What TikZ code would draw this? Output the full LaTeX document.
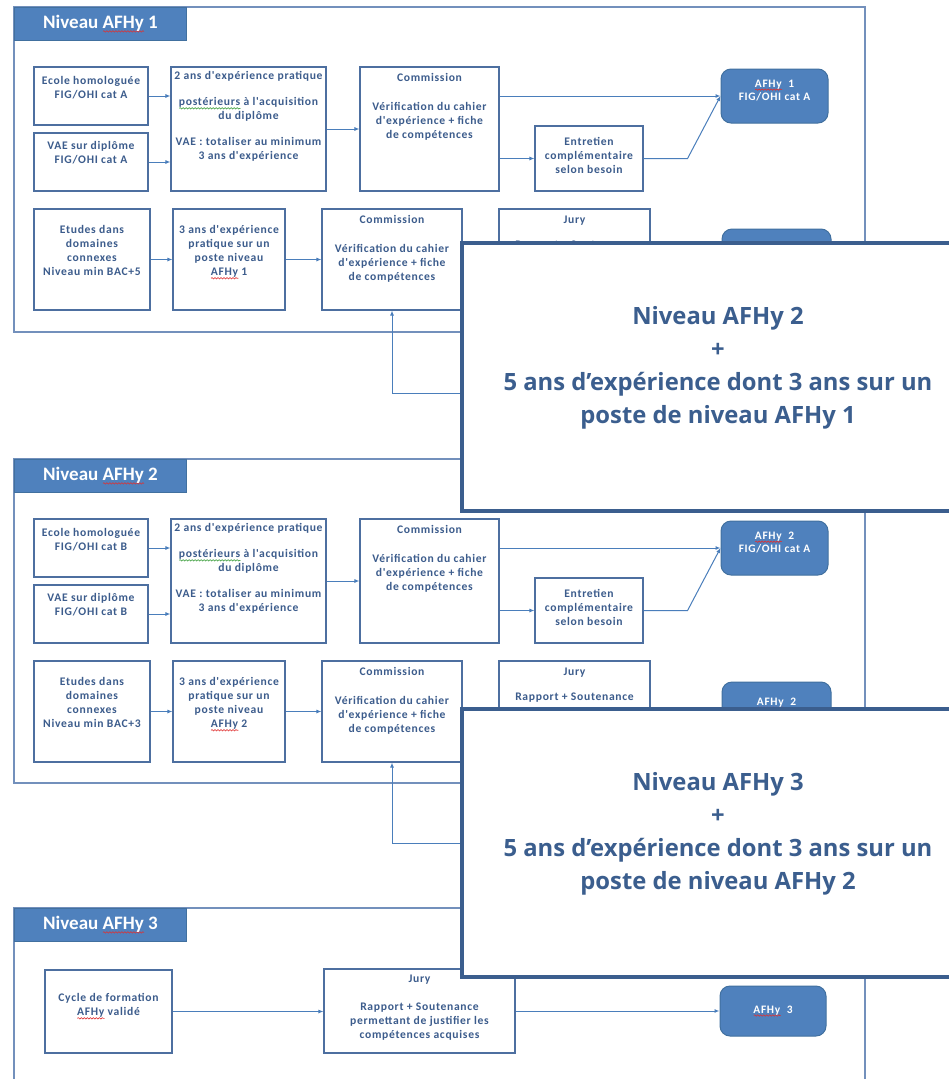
\documentclass[tikz,border=0pt]{standalone}
\usepackage{fontspec}
\setmainfont{Carlito}
\newfontfamily\boxfont[LetterSpace=6]{Carlito}
\newfontfamily\notefont{Open Sans}
\usetikzlibrary{arrows.meta,decorations.pathmorphing}

\definecolor{headblue}{HTML}{4F81BD}
\definecolor{headline}{HTML}{41709F}
\definecolor{framecol}{HTML}{7390BC}
\definecolor{boxline}{HTML}{4D6FA0}
\definecolor{boxtext}{HTML}{3C5C8C}
\definecolor{flowcol}{HTML}{4A7EBB}
\definecolor{notecol}{HTML}{3B5E8E}
\definecolor{spellred}{HTML}{E03030}
\definecolor{spellgreen}{HTML}{3FA03F}

\newsavebox\spellbox
\newlength\spellwd
\newcommand\spellmark[2]{\sbox\spellbox{#2}\setlength\spellwd{\wd\spellbox}%
\rlap{\tikz[baseline=2.5pt]\draw[#1, line width=0.6pt, decorate, decoration={snake, amplitude=0.7pt, segment length=3pt}] (0pt,0pt) -- (\spellwd,0pt);}\usebox\spellbox}
\newcommand\redwave[1]{\spellmark{spellred}{#1}}
\newcommand\greenwave[1]{\spellmark{spellgreen}{#1}}

\pgfdeclarelayer{background layer}
\pgfdeclarelayer{foreground layer}
\pgfsetlayers{background layer,main,foreground layer}

\begin{document}
\begin{tikzpicture}[x=1pt,y=-1pt,
frame/.style={draw=framecol, line width=1.2pt},
head/.style={anchor=north west, fill=headblue, draw=headline, line width=1pt, text=white, font=\fontsize{19}{21}\selectfont\bfseries, minimum width=172pt, minimum height=33pt, inner sep=0pt},
stage/.style={draw=boxline, line width=1.1pt, fill=white, inner sep=0pt},
lbl/.style={font=\boxfont\bfseries\fontsize{11.6}{14}\selectfont, text=boxtext, align=center, inner sep=0pt},
goal/.style={fill=headblue, draw=headline, line width=1pt, rounded corners=10pt, inner sep=0pt},
goaltext/.style={font=\boxfont\bfseries\fontsize{11.4}{13}\selectfont, text=white, align=center, inner sep=0pt},
flow/.style={draw=flowcol, line width=1pt, -{Latex[length=5pt,width=4pt]}},
note/.style={draw=notecol, line width=4.5pt, fill=white, minimum width=512pt, minimum height=268pt, inner sep=0pt},
notetext/.style={font=\notefont\bfseries\fontsize{23.8}{33}\selectfont, text=notecol, align=center, inner sep=0pt}
]
\useasboundingbox (0,0) rectangle (949,1079);
\fill[white] (0,0) rectangle (949,1079);

% Niveau AFHy 1
\draw[frame] (14,7) rectangle (865,332);
\node[head] (headA) at (14,7) {Niveau \redwave{AFHy} 1};
\node[stage, minimum width=114pt, minimum height=58pt, label={[lbl, anchor=north, yshift=-10pt]north:{Ecole homologuée\\FIG/OHI cat A}}] (ecoleA) at (91,96) {};
\node[stage, minimum width=114pt, minimum height=58pt, label={[lbl, anchor=north, yshift=-9pt]north:{VAE sur diplôme\\FIG/OHI cat A}}] (vaeA) at (91,162) {};
\node[stage, minimum width=155pt, minimum height=124pt, label={[lbl, anchor=north, yshift=-5pt]north:{2 ans d'expérience pratique\\[12pt]\greenwave{postérieurs} à l'acquisition\\du diplôme\\[12pt]VAE : totaliser au minimum\\3 ans d'expérience}}] (pratA) at (248.5,129) {};
\node[stage, minimum width=139pt, minimum height=124pt, label={[lbl, anchor=north, yshift=-7pt]north:{Commission\\[15pt]Vérification du cahier\\d'expérience + fiche\\de compétences}}] (commA) at (429.5,129) {};
\node[stage, minimum width=108pt, minimum height=65pt, label={[lbl, anchor=north, yshift=-12pt]north:{Entretien\\complémentaire\\selon besoin}}] (entrA) at (589,158.5) {};
\node[goal, minimum width=107pt, minimum height=54pt, label={[goaltext, anchor=north, yshift=-11pt]north:{\redwave{AFHy}~~1\\FIG/OHI cat A}}] (goalA) at (774.5,96) {};
\node[stage, minimum width=116pt, minimum height=101pt, label={[lbl, anchor=north, yshift=-17pt]north:{Etudes dans\\domaines\\connexes\\Niveau min BAC+5}}] (etudA) at (92,259.5) {};
\node[stage, minimum width=112pt, minimum height=101pt, label={[lbl, anchor=north, yshift=-17pt]north:{3 ans d'expérience\\pratique sur un\\poste niveau\\\redwave{AFHy} 1}}] (posteA) at (229,259.5) {};
\node[stage, minimum width=140pt, minimum height=101pt, label={[lbl, anchor=north, yshift=-7pt]north:{Commission\\[15pt]Vérification du cahier\\d'expérience + fiche\\de compétences}}] (commAb) at (392,259.5) {};
\node[stage, minimum width=151pt, minimum height=101pt, label={[lbl, anchor=north, yshift=-7pt]north:{Jury\\[11pt]Rapport + Soutenance}}] (juryA) at (574.5,259.5) {};
\node[goal, minimum width=109pt, minimum height=54pt, label={[goaltext, anchor=north, yshift=-16pt]north:{\redwave{AFHy}~~1}}] (goalAb) at (776.5,256) {};
\draw[flow] (ecoleA.east) -- (ecoleA.east -| pratA.west);
\draw[flow] (vaeA.east) -- (vaeA.east -| pratA.west);
\draw[flow] (pratA) -- (commA);
\draw[flow] (goalA.west -| commA.east) -- (goalA.west);
\draw[flow] (entrA.west -| commA.east) -- (entrA.west);
\draw[flow] (entrA.east) -- ++(44,0) -- (goalA.west);
\draw[flow] (etudA) -- (posteA);
\draw[flow] (posteA) -- (commAb);
\draw[flow] (commAb) -- (juryA);
\draw[flow] (juryA.east) -- (juryA.east -| goalAb.west);
\coordinate (feedA) at (480,393);
\draw[flow] (feedA) -| (commAb.south);

% Niveau AFHy 2
\draw[frame] (14,459) rectangle (865,783);
\node[head] (headB) at (14,459) {Niveau \redwave{AFHy} 2};
\node[stage, minimum width=114pt, minimum height=58pt, label={[lbl, anchor=north, yshift=-10pt]north:{Ecole homologuée\\FIG/OHI cat B}}] (ecoleB) at (91,548) {};
\node[stage, minimum width=114pt, minimum height=58pt, label={[lbl, anchor=north, yshift=-9pt]north:{VAE sur diplôme\\FIG/OHI cat B}}] (vaeB) at (91,614) {};
\node[stage, minimum width=155pt, minimum height=124pt, label={[lbl, anchor=north, yshift=-5pt]north:{2 ans d'expérience pratique\\[12pt]\greenwave{postérieurs} à l'acquisition\\du diplôme\\[12pt]VAE : totaliser au minimum\\3 ans d'expérience}}] (pratB) at (248.5,581) {};
\node[stage, minimum width=139pt, minimum height=124pt, label={[lbl, anchor=north, yshift=-7pt]north:{Commission\\[15pt]Vérification du cahier\\d'expérience + fiche\\de compétences}}] (commB) at (429.5,581) {};
\node[stage, minimum width=108pt, minimum height=65pt, label={[lbl, anchor=north, yshift=-12pt]north:{Entretien\\complémentaire\\selon besoin}}] (entrB) at (589,610.5) {};
\node[goal, minimum width=107pt, minimum height=54pt, label={[goaltext, anchor=north, yshift=-11pt]north:{\redwave{AFHy}~~2\\FIG/OHI cat A}}] (goalB) at (774.5,548) {};
\node[stage, minimum width=116pt, minimum height=101pt, label={[lbl, anchor=north, yshift=-17pt]north:{Etudes dans\\domaines\\connexes\\Niveau min BAC+3}}] (etudB) at (92,711.5) {};
\node[stage, minimum width=112pt, minimum height=101pt, label={[lbl, anchor=north, yshift=-17pt]north:{3 ans d'expérience\\pratique sur un\\poste niveau\\\redwave{AFHy} 2}}] (posteB) at (229,711.5) {};
\node[stage, minimum width=140pt, minimum height=101pt, label={[lbl, anchor=north, yshift=-7pt]north:{Commission\\[15pt]Vérification du cahier\\d'expérience + fiche\\de compétences}}] (commBb) at (392,711.5) {};
\node[stage, minimum width=151pt, minimum height=101pt, label={[lbl, anchor=north, yshift=-7pt]north:{Jury\\[11pt]Rapport + Soutenance}}] (juryB) at (574.5,711.5) {};
\node[goal, minimum width=109pt, minimum height=54pt, label={[goaltext, anchor=north, yshift=-16pt]north:{\redwave{AFHy}~~2}}] (goalBb) at (776.5,709) {};
\draw[flow] (ecoleB.east) -- (ecoleB.east -| pratB.west);
\draw[flow] (vaeB.east) -- (vaeB.east -| pratB.west);
\draw[flow] (pratB) -- (commB);
\draw[flow] (goalB.west -| commB.east) -- (goalB.west);
\draw[flow] (entrB.west -| commB.east) -- (entrB.west);
\draw[flow] (entrB.east) -- ++(44,0) -- (goalB.west);
\draw[flow] (etudB) -- (posteB);
\draw[flow] (posteB) -- (commBb);
\draw[flow] (commBb) -- (juryB);
\draw[flow] (juryB.east) -- (juryB.east -| goalBb.west);
\coordinate (feedB) at (480,843);
\draw[flow] (feedB) -| (commBb.south);

% Niveau AFHy 3
\draw[frame] (865,1095) -- (865,908) -- (14,908) -- (14,1095);
\node[head] (headC) at (14,908) {Niveau \redwave{AFHy} 3};
\node[stage, minimum width=127pt, minimum height=83pt, label={[lbl, anchor=center, yshift=5pt]center:{Cycle de formation\\\redwave{AFHy} validé}}] (cycleC) at (108.5,1011.5) {};
\node[stage, minimum width=191pt, minimum height=84pt, label={[lbl, anchor=north, yshift=-6pt]north:{Jury\\[14pt]Rapport + Soutenance\\permettant de justifier les\\compétences acquises}}] (juryC) at (419.5,1011) {};
\node[goal, minimum width=106pt, minimum height=50pt, label={[goaltext, anchor=center]center:{\redwave{AFHy}~~3}}] (goalC) at (773,1011) {};
\draw[flow] (cycleC.east) -- (cycleC.east -| juryC.west);
\draw[flow] (juryC.east) -- (juryC.east -| goalC.west);

\begin{pgfonlayer}{foreground layer}
\node[note, label={[notetext, anchor=center, yshift=9pt]center:{Niveau AFHy 2\\+\\5 ans d’expérience dont 3 ans sur un\\poste de niveau AFHy 1}}] (noteA) at (718,377) {};
\node[note, label={[notetext, anchor=center, yshift=9pt]center:{Niveau AFHy 3\\+\\5 ans d’expérience dont 3 ans sur un\\poste de niveau AFHy 2}}] (noteB) at (718,843) {};
\end{pgfonlayer}{foreground layer}
\end{tikzpicture}
\end{document}
